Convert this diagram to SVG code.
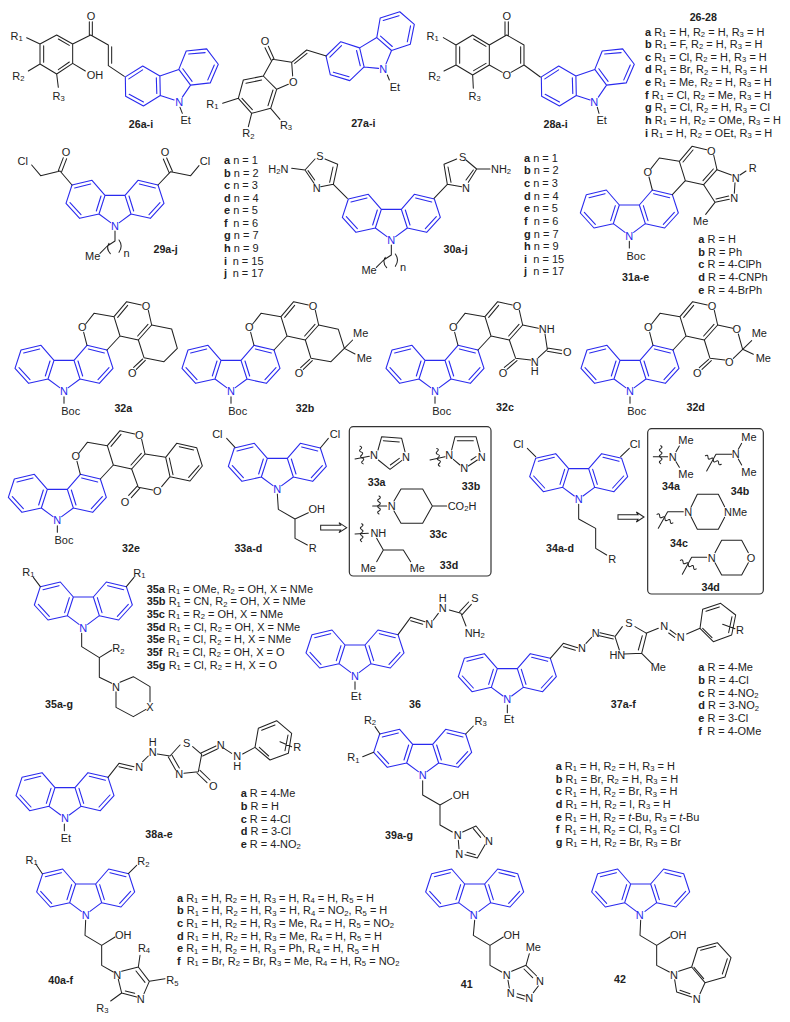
<svg xmlns="http://www.w3.org/2000/svg" xmlns:xlink="http://www.w3.org/1999/xlink" width="790" height="1022" viewBox="0 0 790 1022">
<style>
text{font-family:"Liberation Sans",Arial,sans-serif;font-size:33px;fill:#222;dominant-baseline:central}
.a{text-anchor:middle}
.n{fill:#2a2aee}
.l{text-anchor:middle;font-weight:bold;font-size:32px}
.h{font-weight:bold}
.s{font-size:23px}
.i{font-style:italic}
.k{fill:none;stroke:#222;stroke-width:3.1;stroke-linejoin:round;stroke-linecap:round}
.b{fill:none;stroke:#2a2aee;stroke-width:3.3;stroke-linejoin:round;stroke-linecap:round}
.box{fill:none;stroke:#333;stroke-width:3.6}
.ar{fill:#fff;stroke:#222;stroke-width:3.1}
</style>
<defs>
<path id="cbz" class="b" d="M-129,-123L-69,-137L-30,-92L-48,-36L-106,-23L-147,-68ZM30,-92L69,-137L129,-123L147,-68L106,-23L48,-36ZM-30,-92L30,-92M-48,-36L-13,-10M48,-36L13,-10M-121,-114L-73,-126M-42,-90L-56,-45M-102,-34L-135,-70M121,-114L73,-126M42,-90L56,-45M102,-34L135,-70"/>
<g id="core">
<use href="#cbz" xlink:href="#cbz"/>
<text class="a n" x="0" y="0">N</text>
<path class="k" d="M0,17L0,37M69,-137L59,-176M65,-201L90,-233L150,-223L168,-165L129,-123M168,-165L223,-153M150,-223L188,-268L232,-258M161,-221L191,-257M253,-242L263,-198L223,-153M252,-200L221,-165"/>
<text class="a" x="20" y="60">Boc</text>
<text class="a" x="55" y="-191">O</text>
<text class="a" x="246" y="-255">O</text>
</g>
<g id="ch">
<path class="k" d="M0,15L0,45L-23,60L-45,82M-18,52Q-28,68-14,83M12,42Q25,60 12,79"/>
<text class="a" x="-67" y="90">Me</text>
<text class="a" x="35" y="82">n</text>
</g>
<path id="wv" class="k" d="M0,-27q8,4 0,9q-8,4 0,9q8,4 0,9q-8,4 0,9q8,4 0,9q-8,4 0,9"/>
<polygon id="arw" class="ar" points="962,166 1022,166 1017,158 1040,173 1017,188 1022,180 962,180"/>
</defs>
<g transform="scale(.333333)">

<g id="c26">
<use href="#cbz" xlink:href="#cbz" transform="translate(538,305) rotate(-19)"/>
<text class="a n" x="538" y="305">N</text>
<path class="k" d="M120,132L170,105L218,132L218,190L170,222L120,192ZM175,117L208,136M131,137L131,187M208,186L175,209M120,132L80,113M120,192L85,213M170,222L175,262M218,190L256,213M218,132L272,105L325,135L325,197L373,229M268,105L268,65M277,105L277,65M335,140L335,190M540,322L547,340"/>
<text class="a" x="50" y="107">R<tspan class="s" dy="7">1</tspan></text>
<text class="a" x="55" y="228">R<tspan class="s" dy="7">2</tspan></text>
<text class="a" x="176" y="288">R<tspan class="s" dy="7">3</tspan></text>
<text class="a" x="285" y="225">OH</text>
<text class="a" x="273" y="47">O</text>
<text class="a" x="557" y="361">Et</text>
<text class="l" x="423" y="371">26a-i</text>
</g>

<g id="c27">
<use href="#cbz" xlink:href="#cbz" transform="translate(1152,207) rotate(-31)"/>
<text class="a n" x="1150" y="207">N</text>
<path class="k" d="M790,228L730,240L715,295L755,340L812,325L830,268ZM785,240L738,250M726,295L757,329M804,317L819,270M790,228L818,178L875,187L878,228M865,253L830,268M813,180L795,143M822,176L805,139M875,187L920,150L979,168M884,190L921,160M715,295L668,310M755,340L745,380M812,325L840,358M1162,225L1168,240"/>
<text class="a" x="795" y="122">O</text>
<text class="a" x="880" y="245">O</text>
<text class="a" x="637" y="312">R<tspan class="s" dy="7">1</tspan></text>
<text class="a" x="745" y="400">R<tspan class="s" dy="7">2</tspan></text>
<text class="a" x="858" y="375">R<tspan class="s" dy="7">3</tspan></text>
<text class="a" x="1185" y="260">Et</text>
<text class="l" x="1090" y="370">27a-i</text>
</g>

<g id="c28" transform="translate(1170,0)">
<use href="#cbz" xlink:href="#cbz" transform="translate(616,305) rotate(-19)"/>
<text class="a n" x="613" y="305">N</text>
<path class="k" d="M198,135L248,105L298,135L298,195L248,225L198,195ZM251,117L288,139M209,140L209,190M288,190L251,212M298,135L350,105L402,135L402,195L363,217M337,217L298,195M392,140L392,190M345,105L345,65M355,105L355,65M402,195L451,231M198,135L160,113M198,195L162,213M248,225L250,265M622,322L627,340"/>
<text class="a" x="350" y="47">O</text>
<text class="a" x="350" y="225">O</text>
<text class="a" x="128" y="107">R<tspan class="s" dy="7">1</tspan></text>
<text class="a" x="133" y="228">R<tspan class="s" dy="7">2</tspan></text>
<text class="a" x="254" y="288">R<tspan class="s" dy="7">3</tspan></text>
<text class="a" x="635" y="361">Et</text>
<text class="l" x="497" y="371">28a-i</text>
</g>

<g id="list26" transform="translate(1170,0)">
<text class="l" x="940" y="52">26-28</text>
<text x="765" y="95"><tspan class="h">a</tspan> R<tspan class="s" dy="7">1</tspan><tspan dy="-7"> = H, R</tspan><tspan class="s" dy="7">2</tspan><tspan dy="-7"> = H, R</tspan><tspan class="s" dy="7">3</tspan><tspan dy="-7"> = H</tspan></text>
<text x="765" y="132"><tspan class="h">b</tspan> R<tspan class="s" dy="7">1</tspan><tspan dy="-7"> = F, R</tspan><tspan class="s" dy="7">2</tspan><tspan dy="-7"> = H, R</tspan><tspan class="s" dy="7">3</tspan><tspan dy="-7"> = H</tspan></text>
<text x="765" y="170"><tspan class="h">c</tspan> R<tspan class="s" dy="7">1</tspan><tspan dy="-7"> = Cl, R</tspan><tspan class="s" dy="7">2</tspan><tspan dy="-7"> = H, R</tspan><tspan class="s" dy="7">3</tspan><tspan dy="-7"> = H</tspan></text>
<text x="765" y="208"><tspan class="h">d</tspan> R<tspan class="s" dy="7">1</tspan><tspan dy="-7"> = Br, R</tspan><tspan class="s" dy="7">2</tspan><tspan dy="-7"> = H, R</tspan><tspan class="s" dy="7">3</tspan><tspan dy="-7"> = H</tspan></text>
<text x="765" y="246"><tspan class="h">e</tspan> R<tspan class="s" dy="7">1</tspan><tspan dy="-7"> = Me, R</tspan><tspan class="s" dy="7">2</tspan><tspan dy="-7"> = H, R</tspan><tspan class="s" dy="7">3</tspan><tspan dy="-7"> = H</tspan></text>
<text x="765" y="284"><tspan class="h">f</tspan> R<tspan class="s" dy="7">1</tspan><tspan dy="-7"> = Cl, R</tspan><tspan class="s" dy="7">2</tspan><tspan dy="-7"> = Me, R</tspan><tspan class="s" dy="7">3</tspan><tspan dy="-7"> = H</tspan></text>
<text x="765" y="322"><tspan class="h">g</tspan> R<tspan class="s" dy="7">1</tspan><tspan dy="-7"> = Cl, R</tspan><tspan class="s" dy="7">2</tspan><tspan dy="-7"> = H, R</tspan><tspan class="s" dy="7">3</tspan><tspan dy="-7"> = Cl</tspan></text>
<text x="765" y="360"><tspan class="h">h</tspan> R<tspan class="s" dy="7">1</tspan><tspan dy="-7"> = H, R</tspan><tspan class="s" dy="7">2</tspan><tspan dy="-7"> = OMe, R</tspan><tspan class="s" dy="7">3</tspan><tspan dy="-7"> = H</tspan></text>
<text x="765" y="398"><tspan class="h">i</tspan> R<tspan class="s" dy="7">1</tspan><tspan dy="-7"> = H, R</tspan><tspan class="s" dy="7">2</tspan><tspan dy="-7"> = OEt, R</tspan><tspan class="s" dy="7">3</tspan><tspan dy="-7"> = H</tspan></text>
</g>

<g id="c29" transform="translate(0,435)">
<use href="#cbz" xlink:href="#cbz" transform="translate(345,243)"/>
<text class="a n" x="345" y="243">N</text>
<use href="#ch" xlink:href="#ch" transform="translate(345,243)"/>
<path class="k" d="M216,120L180,78L122,92L95,60M175,77L190,38M185,80L200,41M474,120L512,80L572,92L597,62M507,82L490,42M517,78L500,39"/>
<text class="a" x="198" y="22">O</text>
<text class="a" x="495" y="22">O</text>
<text class="a" x="68" y="47">Cl</text>
<text class="a" x="615" y="47">Cl</text>
<text class="l" x="497" y="311">29a-j</text>
</g>

<g id="list29" transform="translate(0,435)">
<text x="672" y="45"><tspan class="h">a</tspan> n = 1</text>
<text x="672" y="83"><tspan class="h">b</tspan> n = 2</text>
<text x="672" y="120"><tspan class="h">c</tspan> n = 3</text>
<text x="672" y="158"><tspan class="h">d</tspan> n = 4</text>
<text x="672" y="195"><tspan class="h">e</tspan> n = 5</text>
<text x="672" y="233"><tspan class="h">f</tspan>  <tspan x="700">n = 6</tspan></text>
<text x="672" y="271"><tspan class="h">g</tspan> n = 7</text>
<text x="672" y="309"><tspan class="h">h</tspan> n = 9</text>
<text x="672" y="347"><tspan class="h">i</tspan> <tspan x="698">n = 15</tspan></text>
<text x="672" y="385"><tspan class="h">j</tspan> <tspan x="698">n = 17</tspan></text>
</g>

<g id="c30" transform="translate(1170,435)">
<use href="#cbz" xlink:href="#cbz" transform="translate(4,285)"/>
<text class="a n" x="4" y="285">N</text>
<use href="#ch" xlink:href="#ch" transform="translate(4,285)"/>
<path class="k" d="M-128,160L-170,118L-157,58L-195,42M-225,42L-255,75L-228,115M-208,125L-170,118M-181,112L-171,66M-246,77L-226,105M-255,75L-295,70M132,160L172,118L162,58L200,42M228,45L260,72L235,112M215,125L172,118M183,112L174,66M250,75L228,105M260,72L300,72"/>
<text class="a" x="-210" y="32">S</text>
<text class="a" x="-220" y="128">N</text>
<text x="-365" y="72">H<tspan class="s" dy="7">2</tspan><tspan dy="-7">N</tspan></text>
<text class="a" x="218" y="35">S</text>
<text class="a" x="228" y="130">N</text>
<text x="303" y="72">NH<tspan class="s" dy="7">2</tspan></text>
<text class="l" x="197" y="313">30a-j</text>
</g>

<g id="list30" transform="translate(1170,435)">
<text x="402" y="38"><tspan class="h">a</tspan> n = 1</text>
<text x="402" y="76"><tspan class="h">b</tspan> n = 2</text>
<text x="402" y="114"><tspan class="h">c</tspan> n = 3</text>
<text x="402" y="152"><tspan class="h">d</tspan> n = 4</text>
<text x="402" y="190"><tspan class="h">e</tspan> n = 5</text>
<text x="402" y="228"><tspan class="h">f</tspan> <tspan x="431">n = 6</tspan></text>
<text x="402" y="266"><tspan class="h">g</tspan> n = 7</text>
<text x="402" y="303"><tspan class="h">h</tspan> n = 9</text>
<text x="402" y="341"><tspan class="h">i</tspan> <tspan x="430">n = 15</tspan></text>
<text x="402" y="379"><tspan class="h">j</tspan> <tspan x="430">n = 17</tspan></text>
</g>

<g id="c31" transform="translate(1170,435)">
<use href="#core" xlink:href="#core" transform="translate(718,272)"/>
<path class="k" d="M981,74L1024,90M1035,113L1033,145M1018,163L975,172L941,119M1016,153L978,162M975,172L947,208M1050,90L1068,78"/>
<text class="a" x="1037" y="98">N</text>
<text class="a" x="1033" y="160">N</text>
<text class="a" x="1088" y="70">R</text>
<text class="a" x="932" y="227">Me</text>
<text class="l" x="737" y="396">31a-e</text>
<text x="925" y="282"><tspan class="h">a</tspan> R = H</text>
<text x="925" y="320"><tspan class="h">b</tspan> R = Ph</text>
<text x="925" y="358"><tspan class="h">c</tspan> R = 4-ClPh</text>
<text x="925" y="396"><tspan class="h">d</tspan> R = 4-CNPh</text>
<text x="925" y="434"><tspan class="h">e</tspan> R = 4-BrPh</text>
</g>

<g id="c32a" transform="translate(0,930)">
<use href="#core" xlink:href="#core" transform="translate(192,243)"/>
<path class="k" d="M455,45L515,57L532,115L492,155L432,143L415,90M428,147L401,172M436,151L409,178"/>
<text class="a" x="397" y="190">O</text>
<text class="l" x="370" y="293">32a</text>
</g>

<g id="c32b" transform="translate(0,930)">
<use href="#core" xlink:href="#core" transform="translate(693,243)"/>
<path class="k" d="M956,45L1015,58L1033,115L993,155L933,145L916,90M929,148L902,173M937,152L910,178M1033,115L1058,90M1033,115L1065,132"/>
<text class="a" x="897" y="190">O</text>
<text class="a" x="1082" y="68">Me</text>
<text class="a" x="1093" y="143">Me</text>
<text class="l" x="915" y="293">32b</text>
</g>

<g id="c32c" transform="translate(1170,930)">
<use href="#core" xlink:href="#core" transform="translate(135,243)"/>
<path class="k" d="M398,45L445,55M465,72L472,118L445,143M422,150L377,145L358,90M472,114L515,121M472,124L515,131M373,148L343,172M381,152L351,178"/>
<text class="a" x="470" y="57">NH</text>
<text class="a" x="434" y="155">N<tspan x="434" dy="29">H</tspan></text>
<text class="a" x="532" y="125">O</text>
<text class="a" x="339" y="190">O</text>
<text class="l" x="345" y="292">32c</text>
</g>

<g id="c32d" transform="translate(1170,930)">
<use href="#core" xlink:href="#core" transform="translate(720,243)"/>
<path class="k" d="M983,45L1028,55M1045,72L1058,118L1030,145M1005,150L960,145L943,90M956,148L928,173M964,152L936,178M1058,118L1085,92M1058,118L1090,133"/>
<text class="a" x="1040" y="57">O</text>
<text class="a" x="1018" y="155">O</text>
<text class="a" x="922" y="190">O</text>
<text class="a" x="1108" y="68">Me</text>
<text class="a" x="1120" y="143">Me</text>
<text class="l" x="917" y="292">32d</text>
</g>

<g id="c32e" transform="translate(0,1410)">
<use href="#core" xlink:href="#core" transform="translate(172,150)"/>
<path class="k" d="M435,-48L497,-38L510,20L570,33L607,-12L590,-67L530,-80L497,-38M508,-36L519,14M538,-70L581,-60M597,-13L566,22M510,20L485,50M458,60L415,52L395,-3M411,49L386,76M419,55L394,83"/>
<text class="a" x="472" y="62">O</text>
<text class="a" x="375" y="97">O</text>
<text class="l" x="393" y="234">32e</text>
</g>

<g id="c33" transform="translate(0,1410)">
<use href="#cbz" xlink:href="#cbz" transform="translate(832,57)"/>
<text class="a n" x="832" y="57">N</text>
<path class="k" d="M705,-68L680,-95M961,-66L985,-95M832,72L835,118L885,147L885,205L922,225M885,147L925,128"/>
<text class="a" x="652" y="-108">Cl</text>
<text class="a" x="1005" y="-108">Cl</text>
<text class="a" x="950" y="117">OH</text>
<text class="a" x="938" y="235">R</text>
<text class="l" x="745" y="234">33a-d</text>
<use href="#arw" xlink:href="#arw"/>
</g>

<rect id="box33" class="box" x="1048" y="1280" width="425" height="448" rx="12"/>

<g id="f33a" transform="translate(0,930)">
<path class="k" d="M1065,447L1108,439M1134,420L1145,380L1205,385L1215,425M1135,450L1170,478L1205,452M1150,392L1198,396M1171,465L1198,445"/>
<use href="#wv" xlink:href="#wv" transform="translate(1085,435) rotate(-10)"/>
<text class="a" x="1122" y="435">N</text>
<text class="a" x="1218" y="440">N</text>
<text class="l" x="1130" y="517">33a</text>
</g>

<g id="f33b" transform="translate(1170,930)">
<path class="k" d="M120,450L165,440M185,420L195,380L258,380L270,425M262,450L235,468M210,465L190,448M202,392L250,392M243,450L258,440"/>
<use href="#wv" xlink:href="#wv" transform="translate(145,442) rotate(-10)"/>
<text class="a" x="178" y="435">N</text>
<text class="a" x="275" y="440">N</text>
<text class="a" x="223" y="473">N</text>
<text class="l" x="243" y="528">33b</text>
</g>

<g id="f33c" transform="translate(1170,1410)">
<path class="k" d="M-52,108L-10,108M12,93L33,57L98,57L127,108L98,160L33,160L12,123M127,108L170,108"/>
<use href="#wv" xlink:href="#wv" transform="translate(-33,105)"/>
<text class="a" x="5" y="108">N</text>
<text x="173" y="108">CO<tspan class="s" dy="7">2</tspan><tspan dy="-7">H</tspan></text>
<text class="l" x="145" y="193">33c</text>
</g>

<g id="f33d" transform="translate(0,1410)">
<path class="k" d="M1065,192L1105,190M1130,205L1150,240L1130,275M1150,240L1210,240L1232,275"/>
<use href="#wv" xlink:href="#wv" transform="translate(1085,188)"/>
<text class="a" x="1135" y="190">NH</text>
<text class="a" x="1105" y="293">Me</text>
<text class="a" x="1252" y="293">Me</text>
<text class="l" x="1347" y="284">33d</text>
</g>

<g id="c34" transform="translate(1170,1410)">
<use href="#cbz" xlink:href="#cbz" transform="translate(566,88)"/>
<text class="a n" x="566" y="88">N</text>
<path class="k" d="M437,-40L412,-65M692,-40L718,-65M566,103L566,147L617,175L617,235L650,255"/>
<text class="a" x="385" y="-78">Cl</text>
<text class="a" x="735" y="-78">Cl</text>
<text class="a" x="667" y="267">R</text>
<text class="l" x="510" y="233">34a-d</text>
<use href="#arw" xlink:href="#arw" transform="translate(-278,-32)"/>
</g>

<rect id="box34" class="box" x="1943" y="1286" width="347" height="496" rx="12"/>

<g id="f34a" transform="translate(1170,930)">
<path class="k" d="M790,440L833,440M858,425L868,408M858,455L868,472"/>
<use href="#wv" xlink:href="#wv" transform="translate(812,434)"/>
<text class="a" x="848" y="440">N</text>
<text class="a" x="888" y="390">Me</text>
<text class="a" x="888" y="492">Me</text>
<text class="l" x="843" y="528">34a</text>
</g>

<g id="f34b" transform="translate(1170,930)">
<path class="k" d="M1025,433L978,433L950,483M1045,418L1055,400M1045,447L1055,465"/>
<use href="#wv" xlink:href="#wv" transform="translate(970,450) rotate(-62)"/>
<text class="a" x="1037" y="432">N</text>
<text class="a" x="1077" y="382">Me</text>
<text class="a" x="1077" y="485">Me</text>
<text class="l" x="1050" y="542">34b</text>
</g>

<g id="f34c" transform="translate(1170,1410)">
<path class="k" d="M880,125L833,125L805,175M903,112L922,73L985,73L1004,110M903,140L922,178L985,178L1004,142"/>
<use href="#wv" xlink:href="#wv" transform="translate(825,146) rotate(-62)"/>
<text class="a" x="895" y="126">N</text>
<text x="1002" y="126">NMe</text>
<text class="l" x="867" y="219">34c</text>
</g>

<g id="f34d" transform="translate(1170,1410)">
<path class="k" d="M950,262L905,262L877,313M975,248L995,211L1055,211L1075,248M975,278L995,315L1055,315L1075,278"/>
<use href="#wv" xlink:href="#wv" transform="translate(895,284) rotate(-62)"/>
<text class="a" x="965" y="263">N</text>
<text class="a" x="1083" y="263">O</text>
<text class="l" x="962" y="352">34d</text>
</g>

<g id="c35" transform="translate(0,1890)">
<use href="#cbz" xlink:href="#cbz" transform="translate(250,-7)"/>
<text class="a n" x="250" y="-7">N</text>
<path class="k" d="M121,-130L100,-158M379,-130L402,-158M245,10L245,50L298,83L298,142L335,160M298,83L335,60M360,157L400,140L450,170L450,215M438,238L400,260L348,232L348,185"/>
<text class="a" x="85" y="-175">R<tspan class="s" dy="7">1</tspan></text>
<text class="a" x="418" y="-172">R<tspan class="s" dy="7">1</tspan></text>
<text class="a" x="355" y="55">R<tspan class="s" dy="7">2</tspan></text>
<text class="a" x="348" y="170">N</text>
<text class="a" x="450" y="230">X</text>
<text class="l" x="177" y="222">35a-g</text>
</g>

<g id="list35" transform="translate(0,1410)">
<text x="440" y="357"><tspan class="h">35a</tspan> R<tspan class="s" dy="7">1</tspan><tspan dy="-7"> = OMe, R</tspan><tspan class="s" dy="7">2</tspan><tspan dy="-7"> = OH, X = NMe</tspan></text>
<text x="440" y="394"><tspan class="h">35b</tspan> R<tspan class="s" dy="7">1</tspan><tspan dy="-7"> = CN, R</tspan><tspan class="s" dy="7">2</tspan><tspan dy="-7"> = OH, X = NMe</tspan></text>
<text x="440" y="432"><tspan class="h">35c</tspan> R<tspan class="s" dy="7">1</tspan><tspan dy="-7"> = R</tspan><tspan class="s" dy="7">2</tspan><tspan dy="-7"> = OH, X = NMe</tspan></text>
<text x="440" y="470"><tspan class="h">35d</tspan> R<tspan class="s" dy="7">1</tspan><tspan dy="-7"> = Cl, R</tspan><tspan class="s" dy="7">2</tspan><tspan dy="-7"> = OH, X = NMe</tspan></text>
<text x="440" y="508"><tspan class="h">35e</tspan> R<tspan class="s" dy="7">1</tspan><tspan dy="-7"> = Cl, R</tspan><tspan class="s" dy="7">2</tspan><tspan dy="-7"> = H, X = NMe</tspan></text>
<text x="440" y="546"><tspan class="h">35f</tspan> <tspan x="503">R</tspan><tspan class="s" dy="7">1</tspan><tspan dy="-7"> = Cl, R</tspan><tspan class="s" dy="7">2</tspan><tspan dy="-7"> = OH, X = O</tspan></text>
<text x="440" y="584"><tspan class="h">35g</tspan> R<tspan class="s" dy="7">1</tspan><tspan dy="-7"> = Cl, R</tspan><tspan class="s" dy="7">2</tspan><tspan dy="-7"> = H, X = O</tspan></text>
</g>

<g id="c36" transform="translate(1170,1410)">
<use href="#cbz" xlink:href="#cbz" transform="translate(-105,617)"/>
<text class="a n" x="-105" y="617">N</text>
<path class="k" d="M-105,635L-105,658M24,494L62,442L105,455M62,452L98,463M130,450L145,430M178,420L213,430L228,468M209,425L236,396M217,433L244,403"/>
<text class="a" x="118" y="462">N</text>
<text class="a" x="158" y="415">N</text>
<text class="a" x="158" y="385">H</text>
<text class="a" x="255" y="385">S</text>
<text x="224" y="488">NH<tspan class="s" dy="7">2</tspan></text>
<text class="a" x="-102" y="677">Et</text>
<text class="l" x="75" y="702">36</text>
</g>

<g id="c37" transform="translate(1170,1410)">
<use href="#cbz" xlink:href="#cbz" transform="translate(352,688)"/>
<text class="a n" x="352" y="688">N</text>
<path class="k" d="M352,705L352,728M481,565L520,520L563,533M520,530L556,541M588,520L605,502M630,488L672,498M628,497L670,507M675,500L688,540M702,552L755,550L770,490L735,470M697,470L675,500M745,540L757,497M755,550L785,580M768,490L805,475M840,480L858,493M836,489L854,502M890,492L930,475L970,515L1025,495L1037,435L992,400L938,418L930,475M948,424L988,411M1026,440L1016,488M966,503L938,475M998,463L1035,476"/>
<text class="a" x="617" y="490">N</text>
<text class="a" x="576" y="535">N</text>
<text class="a" x="717" y="460">S</text>
<text class="a" x="682" y="555">HN</text>
<text class="a" x="805" y="592">Me</text>
<text class="a" x="823" y="467">N</text>
<text class="a" x="872" y="500">N</text>
<text class="a" x="1050" y="480">R</text>
<text class="a" x="357" y="748">Et</text>
<text class="l" x="700" y="702">37a-f</text>
</g>

<g id="list37" transform="translate(1170,1890)">
<text x="925" y="112"><tspan class="h">a</tspan> R = 4-Me</text>
<text x="925" y="150"><tspan class="h">b</tspan> R = 4-Cl</text>
<text x="925" y="188"><tspan class="h">c</tspan> R = 4-NO<tspan class="s" dy="7">2</tspan></text>
<text x="925" y="226"><tspan class="h">d</tspan> R = 3-NO<tspan class="s" dy="7">2</tspan></text>
<text x="925" y="264"><tspan class="h">e</tspan> R = 3-Cl</text>
<text x="925" y="302"><tspan class="h">f</tspan> <tspan x="952">R = 4-OMe</tspan></text>
</g>

<g id="c38" transform="translate(0,1890)">
<use href="#cbz" xlink:href="#cbz" transform="translate(195,565)"/>
<text class="a n" x="195" y="565">N</text>
<path class="k" d="M193,582L193,602M324,442L357,400L402,410M357,410L396,419M428,395L445,378M472,372L510,378L540,345M578,350L605,373L595,425L552,430M505,381L527,420M516,376L538,414M591,429L621,458M600,421L630,450M603,369L648,348M608,378L652,357M672,355L695,370M728,372L765,352L810,390L865,370L875,310L830,272L775,295L765,352M785,301L825,285M864,315L855,362M806,378L778,352M840,335L875,350"/>
<text class="a" x="418" y="412">N</text>
<text class="a" x="458" y="367">N</text>
<text class="a" x="458" y="335">H</text>
<text class="a" x="560" y="338">S</text>
<text class="a" x="538" y="432">N</text>
<text class="a" x="640" y="467">O</text>
<text class="a" x="662" y="345">N</text>
<text class="a" x="712" y="378">N</text>
<text class="a" x="712" y="408">H</text>
<text class="a" x="892" y="352">R</text>
<text class="a" x="198" y="623">Et</text>
<text class="l" x="477" y="612">38a-e</text>
<text x="722" y="490"><tspan class="h">a</tspan> R = 4-Me</text>
<text x="722" y="528"><tspan class="h">b</tspan> R = H</text>
<text x="722" y="566"><tspan class="h">c</tspan> R = 4-Cl</text>
<text x="722" y="604"><tspan class="h">d</tspan> R = 3-Cl</text>
<text x="722" y="642"><tspan class="h">e</tspan> R = 4-NO<tspan class="s" dy="7">2</tspan></text>
</g>

<g id="c39" transform="translate(1170,1890)">
<use href="#cbz" xlink:href="#cbz" transform="translate(98,435)"/>
<text class="a n" x="98" y="435">N</text>
<path class="k" d="M227,312L250,288M-30,312L-45,290M-49,367L-82,380M98,452L98,495L150,525L150,585L187,606M150,525L185,505M218,606L258,588L285,621M250,596L272,622M285,644L262,684L225,674M256,674L231,667M205,631L207,656"/>
<text class="a" x="272" y="272">R<tspan class="s" dy="7">3</tspan></text>
<text class="a" x="-60" y="270">R<tspan class="s" dy="7">2</tspan></text>
<text class="a" x="-110" y="382">R<tspan class="s" dy="7">1</tspan></text>
<text class="a" x="213" y="495">OH</text>
<text class="a" x="203" y="614">N</text>
<text class="a" x="297" y="634">N</text>
<text class="a" x="208" y="673">N</text>
<text class="l" x="27" y="616">39a-g</text>
</g>

<g id="list39" transform="translate(1170,1890)">
<text x="497" y="408"><tspan class="h">a</tspan> R<tspan class="s" dy="7">1</tspan><tspan dy="-7"> = H, R</tspan><tspan class="s" dy="7">2</tspan><tspan dy="-7"> = H, R</tspan><tspan class="s" dy="7">3</tspan><tspan dy="-7"> = H</tspan></text>
<text x="497" y="446"><tspan class="h">b</tspan> R<tspan class="s" dy="7">1</tspan><tspan dy="-7"> = Br, R</tspan><tspan class="s" dy="7">2</tspan><tspan dy="-7"> = H, R</tspan><tspan class="s" dy="7">3</tspan><tspan dy="-7"> = H</tspan></text>
<text x="497" y="484"><tspan class="h">c</tspan> R<tspan class="s" dy="7">1</tspan><tspan dy="-7"> = H, R</tspan><tspan class="s" dy="7">2</tspan><tspan dy="-7"> = Br, R</tspan><tspan class="s" dy="7">3</tspan><tspan dy="-7"> = H</tspan></text>
<text x="497" y="522"><tspan class="h">d</tspan> R<tspan class="s" dy="7">1</tspan><tspan dy="-7"> = H, R</tspan><tspan class="s" dy="7">2</tspan><tspan dy="-7"> = I, R</tspan><tspan class="s" dy="7">3</tspan><tspan dy="-7"> = H</tspan></text>
<text x="497" y="560"><tspan class="h">e</tspan> R<tspan class="s" dy="7">1</tspan><tspan dy="-7"> = H, R</tspan><tspan class="s" dy="7">2</tspan><tspan dy="-7"> = </tspan><tspan class="i">t</tspan>-Bu, R<tspan class="s" dy="7">3</tspan><tspan dy="-7"> = </tspan><tspan class="i">t</tspan>-Bu</text>
<text x="497" y="598"><tspan class="h">f</tspan> <tspan x="524">R</tspan><tspan class="s" dy="7">1</tspan><tspan dy="-7"> = H, R</tspan><tspan class="s" dy="7">2</tspan><tspan dy="-7"> = Cl, R</tspan><tspan class="s" dy="7">3</tspan><tspan dy="-7"> = Cl</tspan></text>
<text x="497" y="636"><tspan class="h">g</tspan> R<tspan class="s" dy="7">1</tspan><tspan dy="-7"> = H, R</tspan><tspan class="s" dy="7">2</tspan><tspan dy="-7"> = Br, R</tspan><tspan class="s" dy="7">3</tspan><tspan dy="-7"> = Br</tspan></text>
</g>

<g id="c40" transform="translate(0,2466)">
<use href="#cbz" xlink:href="#cbz" transform="translate(257,278)"/>
<text class="a n" x="257" y="278">N</text>
<path class="k" d="M127,155L108,127M385,155L410,130M257,295L255,340L305,370L305,430L340,450M305,370L345,345M365,448L415,435L448,478L432,515M408,447L435,481M410,525L365,513L355,472M404,514L376,507M415,435L420,400M448,478L495,470M365,513L332,537"/>
<text class="a" x="95" y="113">R<tspan class="s" dy="7">1</tspan></text>
<text class="a" x="430" y="118">R<tspan class="s" dy="7">2</tspan></text>
<text class="a" x="370" y="338">OH</text>
<text class="a" x="352" y="458">N</text>
<text class="a" x="422" y="530">N</text>
<text class="a" x="432" y="378">R<tspan class="s" dy="7">4</tspan></text>
<text class="a" x="517" y="475">R<tspan class="s" dy="7">5</tspan></text>
<text class="a" x="307" y="558">R<tspan class="s" dy="7">3</tspan></text>
<text class="l" x="182" y="475">40a-f</text>
</g>

<g id="list40" transform="translate(0,2466)">
<text x="531" y="228"><tspan class="h">a</tspan> R<tspan class="s" dy="7">1</tspan><tspan dy="-7"> = H, R</tspan><tspan class="s" dy="7">2</tspan><tspan dy="-7"> = H, R</tspan><tspan class="s" dy="7">3</tspan><tspan dy="-7"> = H, R</tspan><tspan class="s" dy="7">4</tspan><tspan dy="-7"> = H, R</tspan><tspan class="s" dy="7">5</tspan><tspan dy="-7"> = H</tspan></text>
<text x="531" y="265"><tspan class="h">b</tspan> R<tspan class="s" dy="7">1</tspan><tspan dy="-7"> = H, R</tspan><tspan class="s" dy="7">2</tspan><tspan dy="-7"> = H, R</tspan><tspan class="s" dy="7">3</tspan><tspan dy="-7"> = H, R</tspan><tspan class="s" dy="7">4</tspan><tspan dy="-7"> = NO</tspan><tspan class="s" dy="7">2</tspan><tspan dy="-7">, R</tspan><tspan class="s" dy="7">5</tspan><tspan dy="-7"> = H</tspan></text>
<text x="531" y="303"><tspan class="h">c</tspan> R<tspan class="s" dy="7">1</tspan><tspan dy="-7"> = H, R</tspan><tspan class="s" dy="7">2</tspan><tspan dy="-7"> = H, R</tspan><tspan class="s" dy="7">3</tspan><tspan dy="-7"> = Me, R</tspan><tspan class="s" dy="7">4</tspan><tspan dy="-7"> = H, R</tspan><tspan class="s" dy="7">5</tspan><tspan dy="-7"> = NO</tspan><tspan class="s" dy="7">2</tspan></text>
<text x="531" y="341"><tspan class="h">d</tspan> R<tspan class="s" dy="7">1</tspan><tspan dy="-7"> = H, R</tspan><tspan class="s" dy="7">2</tspan><tspan dy="-7"> = H, R</tspan><tspan class="s" dy="7">3</tspan><tspan dy="-7"> = Me, R</tspan><tspan class="s" dy="7">4</tspan><tspan dy="-7"> = H, R</tspan><tspan class="s" dy="7">5</tspan><tspan dy="-7"> = H</tspan></text>
<text x="531" y="379"><tspan class="h">e</tspan> R<tspan class="s" dy="7">1</tspan><tspan dy="-7"> = H, R</tspan><tspan class="s" dy="7">2</tspan><tspan dy="-7"> = H, R</tspan><tspan class="s" dy="7">3</tspan><tspan dy="-7"> = Ph, R</tspan><tspan class="s" dy="7">4</tspan><tspan dy="-7"> = H, R</tspan><tspan class="s" dy="7">5</tspan><tspan dy="-7"> = H</tspan></text>
<text x="531" y="417"><tspan class="h">f</tspan> <tspan x="560">R</tspan><tspan class="s" dy="7">1</tspan><tspan dy="-7"> = Br, R</tspan><tspan class="s" dy="7">2</tspan><tspan dy="-7"> = Br, R</tspan><tspan class="s" dy="7">3</tspan><tspan dy="-7"> = Me, R</tspan><tspan class="s" dy="7">4</tspan><tspan dy="-7"> = H, R</tspan><tspan class="s" dy="7">5</tspan><tspan dy="-7"> = NO</tspan><tspan class="s" dy="7">2</tspan></text>
</g>

<g id="c41" transform="translate(1170,2466)">
<use href="#cbz" xlink:href="#cbz" transform="translate(254,278)"/>
<text class="a n" x="251" y="278">N</text>
<path class="k" d="M254,295L250,340L300,370L300,430L335,450M300,370L340,345M365,448L408,430L440,462M402,441L428,467M445,492L430,512M405,522L382,515M402,532L380,525M354,475L358,498M408,430L418,395"/>
<text class="a" x="365" y="338">OH</text>
<text class="a" x="350" y="458">N</text>
<text class="a" x="450" y="477">N</text>
<text class="a" x="418" y="527">N</text>
<text class="a" x="362" y="513">N</text>
<text class="a" x="430" y="375">Me</text>
<text class="l" x="230" y="485">41</text>
</g>

<g id="c42" transform="translate(1170,2466)">
<use href="#cbz" xlink:href="#cbz" transform="translate(752,278)"/>
<text class="a n" x="749" y="278">N</text>
<path class="k" d="M752,295L750,340L800,370L800,430L838,450M800,370L840,345M866,448L905,435L923,378L982,362L1023,407L1005,465L945,482L905,435M932,385L977,373M1012,410L997,456M941,470L912,436M945,482L930,515M905,525L860,510L854,473M900,515L870,505"/>
<text class="a" x="865" y="338">OH</text>
<text class="a" x="852" y="458">N</text>
<text class="a" x="920" y="530">N</text>
<text class="l" x="690" y="472">42</text>
</g>

</g>
</svg>
